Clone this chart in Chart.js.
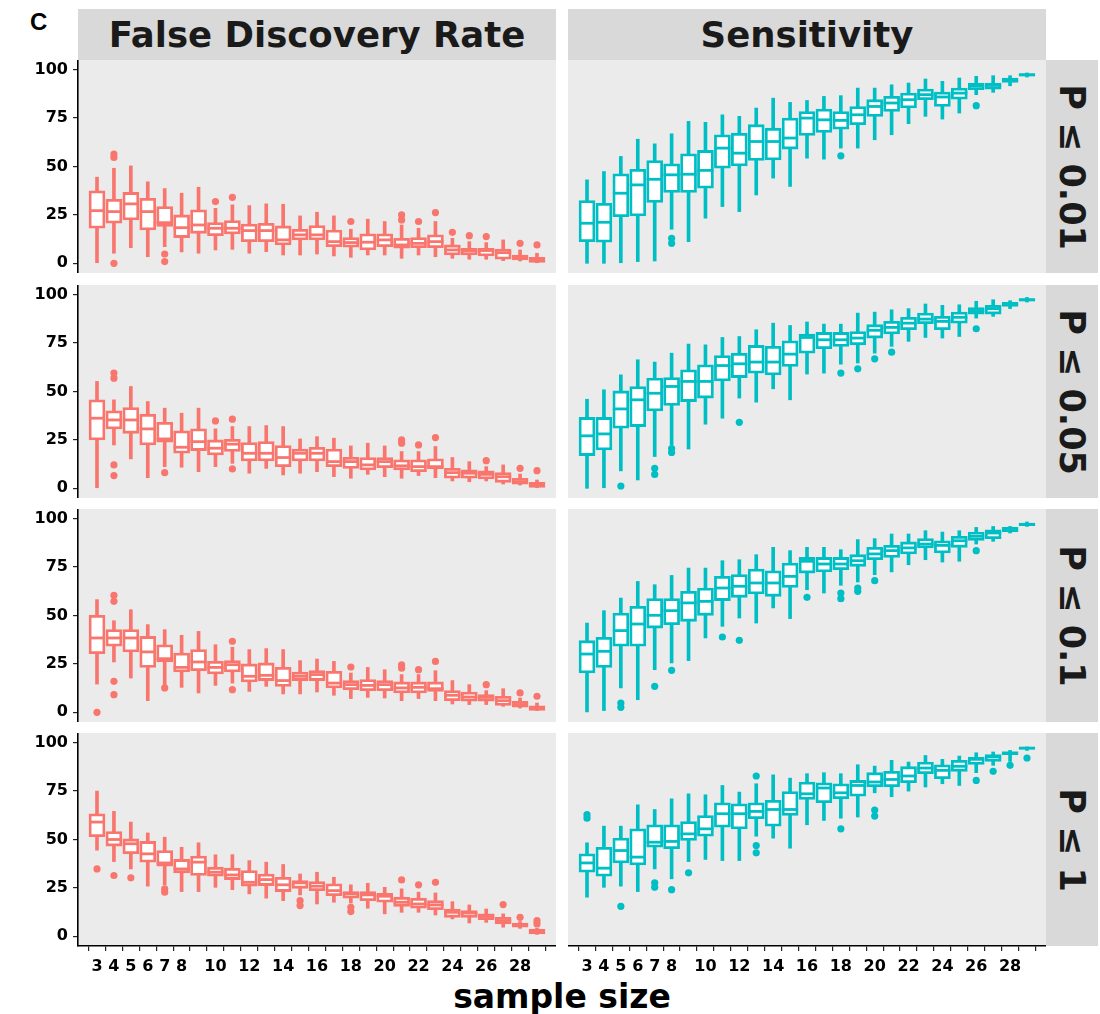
<!DOCTYPE html>
<html>
<head>
<meta charset="utf-8">
<script src="https://cdn.jsdelivr.net/npm/chart.js@4.4.1/dist/chart.umd.min.js"></script>
<style>
  html, body { margin: 0; padding: 0; background: #fff; }
  body { width: 1100px; height: 1014px; position: relative; overflow: hidden; font-family: "DejaVu Sans", sans-serif; }
  canvas { position: absolute; }
  .strip { position: absolute; background: #d9d9d9; color: #1a1a1a; font-weight: bold;
           display: flex; align-items: center; justify-content: center; white-space: nowrap; }
  .strip.top { top: 9px; height: 51px; width: 478px; font-size: 35.5px; }
  .strip.side { left: 1046px; width: 52px; font-size: 35px; }
  .strip.side span { display: block; transform: rotate(90deg); }
  .tag { position: absolute; left: 30px; top: 10px; font: bold 24px/24px "Liberation Sans", Arial, sans-serif; color: #000; }
  .xtitle { position: absolute; left: 78px; width: 968px; top: 978px; height: 38px; line-height: 38px;
            text-align: center; font-weight: bold; font-size: 33px; color: #000; }
</style>
</head>
<body>
<div class="tag">C</div>
<div class="xtitle">sample size</div>

<script>
// Sample sizes on the x axis and which of them carry a printed label
const SIZES = [3, 4, 5, 6, 7, 8, 9, 10, 11, 12, 13, 14, 15, 16, 17, 18, 19, 20, 21, 22, 23, 24, 25, 26, 27, 28, 29];
const X_LABELS = [3, 4, 5, 6, 7, 8, 10, 12, 14, 16, 18, 20, 22, 24, 26, 28];
const Y_TICKS = [0, 25, 50, 75, 100];

const COLUMN_TITLES = ["False Discovery Rate", "Sensitivity"];
const ROW_TITLES = ["P ≤ 0.01", "P ≤ 0.05", "P ≤ 0.1", "P ≤ 1"];

// Box statistics per sample size: [lower whisker, Q1, median, Q3, upper whisker]
const FDR_P001 = [
  [0, 18.1, 27.2, 37.4, 44.5], [5.2, 20.7, 26.7, 33.1, 49.1], [8.1, 22.4, 30.7, 36.6, 50.3],
  [3.4, 17.2, 26.7, 33.6, 42.1], [8.6, 19.0, 21.0, 29.3, 38.6], [5.9, 13.3, 18.4, 25.0, 36.2],
  [5.2, 15.5, 19.8, 27.6, 39.3], [6.9, 14.3, 18.1, 21.0, 28.4], [7.2, 15.2, 18.1, 22.1, 30.2],
  [5.2, 11.2, 16.9, 20.3, 29.8], [6.0, 11.2, 16.9, 20.7, 30.7], [4.3, 9.5, 12.1, 19.3, 30.5],
  [4.3, 12.1, 14.7, 17.6, 24.5], [4.8, 12.1, 14.7, 19.5, 26.4], [3.8, 8.6, 11.2, 17.2, 24.5],
  [3.1, 8.3, 10.7, 13.3, 17.6], [4.3, 6.9, 10.9, 15.2, 22.8], [4.3, 8.6, 12.1, 15.2, 21.6],
  [2.6, 7.8, 9.5, 12.9, 19.8], [4.3, 8.1, 10.3, 13.3, 18.1], [3.4, 8.1, 11.2, 14.7, 21.6],
  [2.6, 4.3, 6.9, 9.5, 12.9], [2.1, 4.3, 6.4, 7.8, 11.2], [2.1, 3.8, 6.6, 7.8, 10.7],
  [1.4, 2.1, 5.5, 7.4, 12.1], [1.2, 1.7, 3.1, 4.3, 6.9], [0.3, 0.5, 1.7, 3.1, 5.2]
];
const FDR_P001_OUT = [[4, 56.4], [4, 54.7], [4, 0], [7, 4.8], [7, 0.9], [10, 31.9], [11, 34.1], [18, 21.6],
  [21, 25.0], [21, 22.4], [22, 21.6], [23, 26.2], [24, 16.0], [25, 14.3], [26, 13.8], [28, 10.3], [29, 9.5]];

const SENS_P001 = [
  [0, 11.2, 20.7, 32.4, 43.1], [0, 10.9, 21.2, 31.0, 47.4], [0.3, 24.1, 36.2, 46.2, 55.2],
  [0.9, 24.5, 40.5, 48.6, 64.1], [1.2, 31.4, 43.4, 53.1, 61.7], [17.6, 36.6, 45.7, 51.4, 66.9],
  [11.2, 36.6, 46.0, 56.6, 73.3], [23.3, 38.8, 48.0, 58.3, 72.8], [29.3, 49.1, 59.5, 66.4, 76.7],
  [26.7, 50.3, 56.9, 67.2, 75.9], [35.3, 53.1, 62.9, 71.6, 80.2], [44.0, 53.4, 62.9, 69.8, 85.3],
  [39.7, 59.0, 64.7, 75.0, 83.1], [54.3, 66.0, 75.0, 78.4, 84.1], [53.8, 67.6, 74.1, 79.7, 86.2],
  [59.5, 69.3, 73.8, 78.4, 86.6], [59.5, 71.6, 76.7, 81.0, 90.5], [63.8, 75.9, 81.0, 84.5, 90.5],
  [66.4, 78.4, 82.8, 86.2, 92.2], [72.1, 80.2, 84.5, 87.9, 93.1], [75.9, 84.5, 87.1, 90.0, 95.2],
  [74.5, 81.0, 85.9, 88.4, 94.0], [77.6, 84.8, 87.9, 90.5, 95.7], [87.1, 89.7, 91.7, 93.1, 96.6],
  [88.3, 90.0, 91.9, 93.1, 96.9], [91.7, 93.4, 94.8, 95.7, 96.9], [96.2, 96.6, 97.4, 97.9, 98.3]
];
const SENS_P001_OUT = [[8, 12.9], [8, 10.3], [18, 55.5], [26, 81.4]];

const FDR_P005 = [
  [0, 25.0, 36.2, 45.7, 55.2], [22.4, 30.7, 35.3, 40.0, 45.7], [15.2, 28.4, 35.3, 41.7, 52.6],
  [5.5, 22.4, 30.7, 38.3, 44.8], [11.2, 23.8, 25.5, 34.1, 41.4], [10.9, 18.1, 21.2, 29.7, 38.8],
  [8.6, 19.5, 24.1, 30.7, 41.4], [11.2, 17.2, 20.7, 25.0, 30.7], [12.9, 19.0, 22.8, 25.3, 31.9],
  [7.8, 14.1, 18.1, 23.6, 31.9], [10.3, 14.1, 18.1, 24.1, 32.4], [6.9, 11.2, 15.9, 22.1, 31.9],
  [7.8, 14.1, 18.1, 20.3, 25.5], [8.6, 14.1, 18.1, 21.2, 26.7], [6.0, 11.2, 13.8, 20.3, 25.9],
  [5.2, 10.3, 13.8, 16.0, 21.9], [7.2, 9.5, 12.1, 15.9, 23.3], [6.0, 10.7, 13.8, 15.9, 21.9],
  [5.2, 9.5, 11.6, 14.7, 19.0], [6.6, 8.6, 11.2, 14.7, 19.0], [5.5, 10.0, 11.2, 15.2, 21.6],
  [3.8, 5.2, 8.1, 10.3, 15.9], [3.4, 5.2, 7.8, 9.5, 13.8], [3.8, 4.8, 7.2, 9.0, 11.2],
  [2.2, 3.1, 6.0, 8.1, 12.1], [1.7, 2.1, 3.4, 5.2, 7.4], [0.3, 0.5, 1.7, 3.1, 4.3]
];
const FDR_P005_OUT = [[4, 59.5], [4, 56.9], [4, 12.1], [4, 6.6], [7, 8.1], [10, 34.8], [11, 35.7], [11, 10.0],
  [21, 25.0], [21, 23.3], [22, 22.4], [23, 26.2], [26, 14.3], [28, 10.3], [29, 9.1]];

const SENS_P005 = [
  [0, 16.9, 27.1, 36.6, 46.0], [0.3, 19.8, 28.1, 36.6, 50.9], [9.0, 31.0, 41.0, 50.3, 58.6],
  [4.3, 31.9, 45.7, 52.6, 66.4], [16.4, 40.0, 49.1, 56.9, 65.2], [22.4, 42.8, 52.6, 57.2, 69.8],
  [20.3, 44.8, 55.2, 61.2, 74.5], [33.1, 46.6, 55.2, 63.8, 74.1], [36.2, 55.5, 63.4, 68.6, 77.9],
  [46.6, 57.2, 64.3, 69.8, 78.4], [44.5, 59.5, 65.2, 73.8, 81.9], [51.4, 58.6, 65.2, 73.3, 85.3],
  [45.7, 62.9, 69.3, 76.2, 84.1], [59.0, 69.8, 77.9, 79.7, 85.9], [59.5, 72.1, 76.7, 80.5, 84.8],
  [64.1, 73.3, 76.7, 80.5, 84.8], [64.7, 74.1, 77.6, 81.0, 90.5], [69.8, 77.6, 81.6, 84.5, 91.0],
  [73.3, 79.7, 83.1, 86.2, 92.2], [75.9, 81.9, 85.3, 88.3, 92.8], [77.9, 85.0, 87.4, 90.5, 95.2],
  [77.6, 81.9, 86.2, 88.8, 94.5], [78.4, 85.3, 88.3, 91.0, 94.8], [87.9, 90.0, 91.7, 93.4, 96.6],
  [88.8, 90.0, 92.8, 94.5, 97.4], [92.8, 94.0, 95.2, 96.0, 96.9], [96.2, 96.7, 97.4, 97.9, 98.6]
];
const SENS_P005_OUT = [[5, 1.2], [7, 10.3], [7, 7.2], [8, 20.5], [8, 18.5], [12, 34.1], [18, 59.5],
  [19, 61.7], [20, 66.9], [21, 70.3], [26, 82.4]];

const FDR_P01 = [
  [14.6, 30.3, 38.4, 50.1, 58.2], [26.0, 34.1, 38.4, 42.7, 47.3], [17.7, 31.2, 38.4, 42.7, 53.0],
  [6.0, 23.2, 31.2, 39.2, 45.3], [14.3, 26.0, 27.7, 34.9, 42.7], [12.9, 20.8, 23.2, 30.6, 39.8],
  [10.0, 21.5, 26.0, 32.4, 41.8], [13.9, 19.8, 23.2, 26.3, 34.9], [15.1, 20.8, 24.6, 26.7, 33.6],
  [10.8, 15.7, 18.6, 25.0, 32.4], [13.4, 16.4, 19.1, 25.5, 32.9], [9.5, 13.4, 16.4, 23.2, 32.4],
  [9.5, 16.4, 18.6, 20.8, 26.7], [10.5, 16.4, 19.5, 21.5, 27.5], [8.8, 12.6, 15.1, 21.2, 26.3],
  [7.1, 11.7, 14.3, 16.4, 20.3], [7.7, 11.2, 13.9, 16.9, 23.2], [7.4, 11.2, 14.3, 16.4, 22.0],
  [6.0, 10.0, 12.6, 15.7, 19.5], [7.1, 10.0, 12.9, 15.7, 19.5], [6.0, 10.8, 12.2, 15.7, 21.5],
  [4.3, 6.0, 8.8, 11.2, 16.4], [4.0, 5.7, 7.9, 10.5, 14.3], [4.0, 5.7, 7.7, 9.1, 11.2],
  [3.1, 3.6, 6.0, 8.3, 12.2], [2.2, 2.6, 4.0, 5.7, 7.4], [0.9, 1.0, 2.2, 3.4, 4.8]
];
const FDR_P01_OUT = [[3, 0], [4, 60.4], [4, 57.3], [4, 16.0], [4, 9.1], [7, 12.6], [11, 36.7], [11, 11.7],
  [18, 23.4], [21, 24.5], [21, 22.8], [22, 22.0], [23, 26.3], [26, 14.3], [28, 10.0], [29, 8.3]];

const SENS_P01 = [
  [0.2, 20.3, 30.1, 37.0, 46.1], [0.9, 23.2, 31.5, 38.7, 52.5], [12.6, 34.1, 42.2, 51.3, 59.0],
  [6.5, 34.1, 45.6, 54.7, 67.6], [22.0, 43.5, 50.1, 58.7, 65.9], [25.5, 45.3, 52.5, 58.7, 70.7],
  [26.7, 47.0, 56.5, 62.5, 74.5], [38.4, 50.1, 57.3, 64.2, 74.5], [44.4, 57.7, 64.2, 70.2, 78.3],
  [48.7, 59.4, 65.1, 71.1, 78.8], [46.1, 61.1, 66.8, 74.0, 81.4], [53.9, 59.9, 66.8, 73.1, 85.2],
  [48.4, 64.5, 70.2, 77.1, 83.5], [63.3, 71.9, 78.0, 80.0, 85.2], [61.6, 72.5, 76.6, 80.0, 85.2],
  [65.6, 73.7, 76.6, 80.0, 84.0], [67.3, 75.4, 78.3, 81.4, 89.2], [71.1, 78.8, 81.8, 85.2, 89.7],
  [72.5, 80.0, 83.5, 86.2, 92.1], [76.2, 81.8, 84.9, 88.0, 92.1], [78.8, 84.9, 86.9, 89.7, 93.8],
  [77.6, 82.3, 86.2, 88.6, 93.1], [78.0, 85.2, 88.6, 90.9, 93.8], [86.9, 88.8, 90.9, 93.1, 95.5],
  [88.3, 89.7, 92.6, 94.3, 96.0], [92.6, 93.1, 94.7, 95.5, 96.0], [96.0, 96.4, 97.1, 97.6, 98.3]
];
const SENS_P01_OUT = [[5, 4.8], [5, 2.6], [7, 13.4], [8, 21.7], [11, 38.9], [12, 37.2], [16, 59.4],
  [18, 61.6], [18, 58.7], [19, 64.2], [19, 62.5], [20, 68.0], [26, 83.5]];

const FDR_P1 = [
  [44.5, 51.4, 59.0, 63.3, 75.0], [38.6, 46.6, 50.0, 54.1, 64.5], [34.8, 42.6, 47.8, 50.3, 59.0],
  [25.9, 38.3, 42.6, 49.0, 53.4], [26.6, 36.2, 37.9, 44.3, 51.2], [23.1, 32.8, 34.8, 39.7, 46.0],
  [23.1, 31.4, 38.3, 41.4, 48.3], [25.3, 31.0, 33.1, 35.7, 42.1], [24.1, 29.3, 31.7, 35.2, 42.2],
  [21.9, 25.9, 27.9, 34.0, 39.1], [19.7, 26.2, 29.3, 32.2, 38.3], [18.4, 23.1, 26.6, 30.5, 37.1],
  [21.4, 24.8, 27.6, 28.8, 32.2], [16.7, 23.6, 25.9, 28.3, 33.1], [17.6, 21.0, 23.6, 27.1, 30.5],
  [17.2, 19.7, 21.9, 23.1, 26.6], [14.5, 18.4, 21.4, 23.1, 27.4], [11.6, 17.6, 20.7, 22.2, 25.3],
  [12.4, 15.5, 17.6, 20.2, 24.5], [12.4, 14.5, 16.7, 19.7, 22.8], [11.0, 13.8, 16.2, 18.4, 22.4],
  [9.0, 9.8, 12.4, 14.1, 17.9], [6.9, 9.8, 12.1, 13.3, 16.2], [7.2, 8.6, 10.3, 11.6, 14.1],
  [4.7, 6.4, 8.1, 9.8, 11.6], [4.1, 4.7, 5.9, 6.9, 7.6], [1.0, 1.2, 2.4, 3.8, 4.1]
];
const FDR_P1_OUT = [[3, 34.8], [4, 31.4], [5, 30.2], [7, 24.5], [7, 22.8], [15, 18.4], [15, 15.9], [18, 15.0],
  [18, 12.8], [21, 29.1], [22, 26.6], [23, 27.9], [27, 16.4], [28, 9.8], [29, 8.1], [29, 6.4]];

const SENS_P1 = [
  [20.2, 33.1, 37.9, 42.6, 48.3], [25.3, 31.0, 35.2, 46.0, 56.9], [25.9, 37.9, 44.3, 50.7, 56.9],
  [23.1, 36.9, 40.9, 55.5, 67.9], [34.8, 46.0, 48.6, 57.6, 65.5], [29.7, 45.2, 49.0, 57.6, 71.0],
  [38.6, 49.5, 52.9, 59.3, 73.6], [39.7, 51.7, 55.5, 62.4, 73.1], [39.1, 56.4, 63.3, 69.0, 77.9],
  [39.1, 55.5, 63.3, 68.4, 74.5], [51.7, 60.7, 64.5, 69.0, 78.8], [50.7, 56.9, 65.5, 70.2, 83.4],
  [45.5, 62.4, 65.5, 74.8, 81.7], [57.6, 70.7, 73.6, 79.7, 84.0], [59.8, 69.0, 76.6, 79.3, 84.5],
  [61.0, 71.0, 74.1, 78.8, 84.0], [61.6, 72.4, 77.9, 80.5, 88.6], [74.1, 77.2, 79.7, 84.5, 87.9],
  [72.1, 77.2, 81.0, 85.2, 90.9], [75.0, 79.3, 82.8, 87.6, 90.0], [77.1, 84.0, 86.9, 90.0, 93.4],
  [78.8, 81.4, 85.7, 88.6, 91.4], [77.9, 85.2, 87.8, 90.9, 93.1], [84.5, 88.8, 91.4, 92.6, 94.8],
  [88.3, 90.3, 92.6, 93.8, 95.2], [90.3, 93.8, 94.7, 95.2, 96.0], [96.0, 96.6, 97.2, 97.6, 97.8]
];
const SENS_P1_OUT = [[3, 62.8], [3, 61.0], [5, 15.5], [7, 27.6], [7, 25.3], [8, 24.1], [9, 32.8], [13, 82.8],
  [13, 46.9], [13, 43.1], [18, 55.5], [20, 65.2], [20, 62.1], [26, 80.5], [27, 85.2], [28, 88.3], [29, 92.1]];

const FDR_COLOR = "#F8766D";
const SENS_COLOR = "#00BFC4";

// Facet grid: rows are p-value cut-offs, columns are the two metrics
const PANELS = [
  { row: 0, col: 0, stats: FDR_P001, outliers: FDR_P001_OUT, color: FDR_COLOR },
  { row: 0, col: 1, stats: SENS_P001, outliers: SENS_P001_OUT, color: SENS_COLOR },
  { row: 1, col: 0, stats: FDR_P005, outliers: FDR_P005_OUT, color: FDR_COLOR },
  { row: 1, col: 1, stats: SENS_P005, outliers: SENS_P005_OUT, color: SENS_COLOR },
  { row: 2, col: 0, stats: FDR_P01, outliers: FDR_P01_OUT, color: FDR_COLOR },
  { row: 2, col: 1, stats: SENS_P01, outliers: SENS_P01_OUT, color: SENS_COLOR },
  { row: 3, col: 0, stats: FDR_P1, outliers: FDR_P1_OUT, color: FDR_COLOR },
  { row: 3, col: 1, stats: SENS_P1, outliers: SENS_P1_OUT, color: SENS_COLOR }
];

// Layout of the facet grid (pixels)
const PANEL_W = 478, PANEL_H = 213;
const COL_LEFT = [78, 568];
const ROW_TOP = [60, 285, 509, 733];
const Y_AXIS_W = 78, X_AXIS_H = 50;
const BOX_W = 16, WHISKER_W = 3, LINE_W = 2.8, DOT_R = 3.6;

const TICK_FONT = { family: "DejaVu Sans", weight: "bold", size: 16 };

// grey panel background behind the boxes
const panelBackground = {
  id: "panelBackground",
  beforeDraw(chart) {
    const { ctx, chartArea: a } = chart;
    ctx.save();
    ctx.fillStyle = "#ebebeb";
    ctx.fillRect(a.left, a.top, a.right - a.left, a.bottom - a.top);
    ctx.restore();
  }
};

function addStrip(cls, text, style) {
  const d = document.createElement("div");
  d.className = "strip " + cls;
  Object.assign(d.style, style);
  const s = document.createElement("span");
  s.textContent = text;
  d.appendChild(s);
  document.body.appendChild(d);
}

COLUMN_TITLES.forEach((t, c) => addStrip("top", t, { left: COL_LEFT[c] + "px" }));
ROW_TITLES.forEach((t, r) => addStrip("side", t, { top: ROW_TOP[r] + "px", height: PANEL_H + "px" }));

function drawPanel(p) {
  const showY = p.col === 0;
  const showX = p.row === ROW_TOP.length - 1;
  const axisW = showY ? Y_AXIS_W : 0;
  const axisH = showX ? X_AXIS_H : 0;

  const canvas = document.createElement("canvas");
  canvas.width = PANEL_W + axisW;
  canvas.height = PANEL_H + axisH;
  canvas.style.left = (COL_LEFT[p.col] - axisW) + "px";
  canvas.style.top = ROW_TOP[p.row] + "px";
  document.body.appendChild(canvas);

  const whiskers = p.stats.map((s, i) => ({ x: SIZES[i], y: [s[0], s[4]] }));
  const boxes = p.stats.map((s, i) => ({ x: SIZES[i], y: [s[1], s[3]] }));
  const medians = p.stats.map((s, i) => ({ x: SIZES[i], y: s[2] }));
  const dots = p.outliers.map(o => ({ x: o[0], y: o[1] }));

  new Chart(canvas, {
    type: "bar",
    data: {
      datasets: [
        { type: "bar", data: whiskers, backgroundColor: p.color, barThickness: WHISKER_W,
          grouped: false, order: 4 },
        { type: "bar", data: boxes, backgroundColor: "#ffffff", borderColor: p.color,
          borderWidth: LINE_W, borderSkipped: false, barThickness: BOX_W, grouped: false, order: 3 },
        { type: "scatter", data: medians, pointStyle: "line", pointRadius: BOX_W / 2,
          pointBorderColor: p.color, pointBorderWidth: LINE_W, order: 2 },
        { type: "scatter", data: dots, pointStyle: "circle", pointRadius: DOT_R,
          pointBackgroundColor: p.color, pointBorderColor: p.color, pointBorderWidth: 0, order: 1 }
      ]
    },
    options: {
      responsive: false,
      animation: false,
      devicePixelRatio: 1,
      events: [],
      layout: { padding: 0, autoPadding: false },
      plugins: { legend: { display: false }, tooltip: { enabled: false } },
      scales: {
        x: {
          type: "linear", min: 2.4, max: 29.6, display: showX,
          afterBuildTicks: s => { s.ticks = SIZES.map(v => ({ value: v })); },
          afterFit: s => { s.height = axisH; s.paddingLeft = 0; s.paddingRight = 0; },
          ticks: { autoSkip: false, maxRotation: 0, minRotation: 0, padding: 6, color: "#000",
                   font: TICK_FONT, callback: v => (X_LABELS.includes(v) ? String(v) : "") },
          grid: { display: true, drawOnChartArea: false, drawTicks: true, tickLength: 5,
                  color: "#222", lineWidth: 1.2 },
          border: { display: true, color: "#000", width: 1.6 }
        },
        y: {
          type: "linear", min: -5, max: 105, display: showY,
          afterBuildTicks: s => { s.ticks = Y_TICKS.map(v => ({ value: v })); },
          afterFit: s => { s.width = axisW; s.paddingTop = 0; s.paddingBottom = 0; },
          ticks: { padding: 5, color: "#000", font: TICK_FONT, callback: v => String(v) },
          grid: { display: true, drawOnChartArea: false, drawTicks: true, tickLength: 5,
                  color: "#222", lineWidth: 1.2 },
          border: { display: true, color: "#000", width: 1.6 }
        }
      }
    },
    plugins: [panelBackground]
  });
}

PANELS.forEach(drawPanel);
</script>
</body>
</html>
